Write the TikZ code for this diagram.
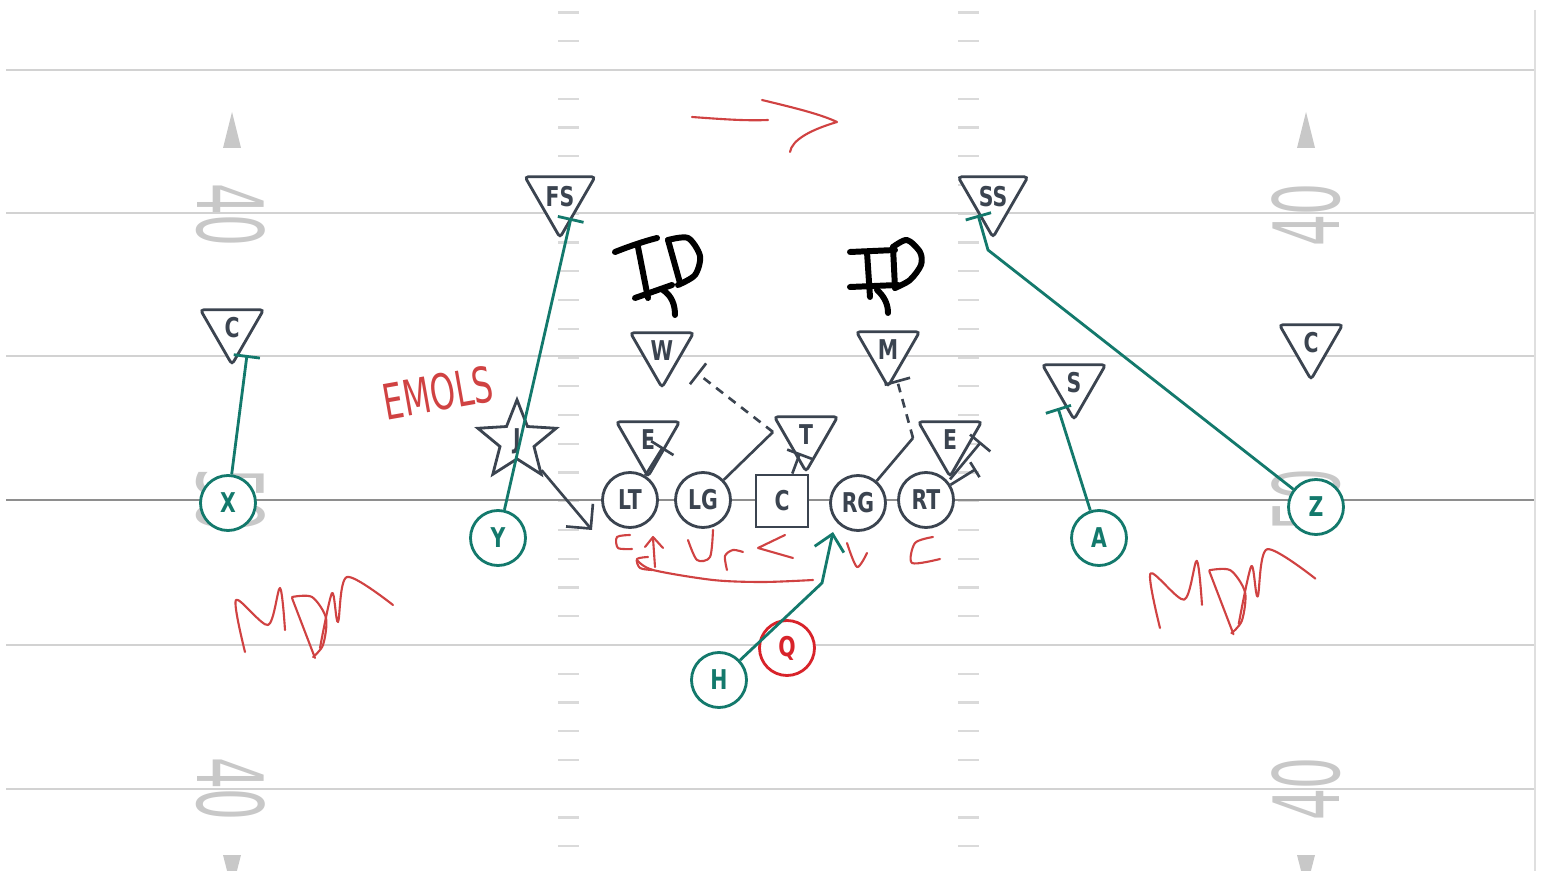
\documentclass[tikz,border=0pt]{standalone}
\usepackage{fontspec}
\usetikzlibrary{shapes.geometric,arrows.meta}

\newfontfamily\playfont[FakeStretch=0.75]{DejaVu Sans}
\newfontfamily\yardfont[FakeStretch=0.55]{DejaVu Sans}
\newfontfamily\handfont[FakeStretch=0.65]{DejaVu Sans}

\definecolor{offteal}{HTML}{13796C}
\definecolor{defslate}{HTML}{3B4450}
\definecolor{qbred}{HTML}{D8232A}
\definecolor{inkred}{HTML}{D04242}
\definecolor{fieldgray}{HTML}{D2D2D2}
\definecolor{losgray}{HTML}{8E8E8E}
\definecolor{yardgray}{HTML}{C8C8C8}
\definecolor{hashgray}{HTML}{DADADA}

\tikzset{
  player/.style={circle, fill=white, line width=1.6pt, minimum size=1.1cm, inner sep=0pt,
    font=\playfont\bfseries\fontsize{15.5}{16}\selectfont},
  off/.style={player, draw=offteal, text=offteal},
  oline/.style={player, draw=defslate, text=defslate},
  snapper/.style={oline, rectangle, minimum size=1.04cm},
  qb/.style={player, draw=qbred, text=qbred},
  defender/.style={regular polygon, regular polygon sides=3, shape border rotate=180,
    draw=defslate, text=defslate, fill=white, line width=1.6pt, minimum size=1.46cm,
    inner sep=0pt, rounded corners=2pt, font=\playfont\bfseries\fontsize{15.5}{16}\selectfont},
  jstar/.style={star, star points=5, star point ratio=2.3, draw=defslate, text=defslate,
    line width=1.6pt, minimum size=1.45cm, inner sep=0pt,
    font=\playfont\bfseries\fontsize{15.5}{16}\selectfont},
  yardnum/.style={text=yardgray, inner sep=0pt, font=\yardfont\fontsize{52}{52}\selectfont},
  route/.style={offteal, line width=1.6pt},
  blk/.style={defslate, line width=1.5pt},
  rush/.style={blk, dash pattern=on 5pt off 4pt},
  tbar/.style={-{Bar[width=15pt]}},
  ink/.style={inkred, line width=1.2pt, line cap=round, line join=round},
  pen/.style={black, line width=3.4pt, line cap=round, line join=round},
  mdm/.pic={
    \draw[ink] plot[smooth] coordinates {(0,0) (-9,-52) (23,-27) (35,-64) (40,-22)};
    \draw[ink] (47,-54) -- (70,6);
    \draw[ink] plot[smooth] coordinates {(47,-55) (67,-55) (81,-34) (78,-7) (68,5)};
    \draw[ink] plot[smooth] coordinates {(75,-4) (87,-59) (93,-30) (102,-75) (148,-47)};
  }
}

\begin{document}
\begin{tikzpicture}[x=0.02cm, y=-0.02cm]
  \fill[white] (0,0) rectangle (1543,871);
  \useasboundingbox (0,0) rectangle (1543,871);

  % field
  \foreach \i in {-2,...,27} {
    \draw[hashgray, line width=1.4pt] (558,{70+\i*28.75}) -- (579,{70+\i*28.75});
    \draw[hashgray, line width=1.4pt] (958,{70+\i*28.75}) -- (979,{70+\i*28.75});
  }
  \foreach \yy/\num in {215/40,500/50,789/40} {
    \node[yardnum, rotate=-90] (ydL\yy) at (231,\yy) {\num};
    \node[yardnum, rotate=90] (ydR\yy) at (1306,\yy) {\num};
  }
  \foreach \xx in {232,1306} {
    \fill[yardgray] (\xx,112) -- (\xx-9,148) -- (\xx+9,148) -- cycle;
    \fill[yardgray] (\xx,890) -- (\xx-9,855) -- (\xx+9,855) -- cycle;
  }
  \foreach \yy in {70,213,356,645,789}
    \draw[fieldgray, line width=1.5pt] (6,\yy) -- (1535,\yy);
  \draw[losgray, line width=1.2pt] (6,500) -- (1535,500);
  \draw[fieldgray!70, line width=1pt] (1535,10) -- (1535,871);

  % defense
  \node[defender] (Cl) at (232,328) {C};
  \node[defender] (FS) at (560,197) {FS};
  \node[defender] (SS) at (993,197) {SS};
  \node[defender] (W) at (662,351) {W};
  \node[defender] (M) at (888,350) {M};
  \node[defender] (S) at (1074,383) {S};
  \node[defender] (Cr) at (1311,343) {C};
  \node[defender] (El) at (648,440) {E};
  \node[defender] (T) at (806,435) {T};
  \node[defender] (Er) at (950,440) {E};
  \node[jstar] (J) at (517,441) {J};

  % offense
  \node[off] (X) at (228,503) {X};
  \node[off] (Y) at (498,538) {Y};
  \node[oline] (LT) at (630,500) {LT};
  \node[oline] (LG) at (703,500) {LG};
  \node[snapper] (C) at (782,501) {C};
  \node[oline] (RG) at (858,503) {RG};
  \node[oline] (RT) at (926,500) {RT};
  \node[off] (A) at (1099,538) {A};
  \node[off] (Z) at (1316,507) {Z};
  \node[off] (H) at (719,680) {H};
  \node[qb] (Q) at (787,648) {Q};

  % route ends
  \coordinate (xblk) at (247,355);
  \coordinate (yblk) at (571,218);
  \coordinate (ablk) at (1058,408);
  \coordinate (zturn) at (988,250);
  \coordinate (zblk) at (978,215);
  \coordinate (hturn) at (822,583);
  \coordinate (hend) at (833,532);
  \coordinate (jend) at (592,530);
  \coordinate (ltblk) at (663,447);
  \coordinate (lgk) at (773,432);
  \coordinate (wblk) at (697,373);
  \coordinate (cblk) at (800,453);
  \coordinate (rgk) at (913,438);
  \coordinate (mblk) at (897,380);
  \coordinate (rtblk) at (976,469);
  \coordinate (erblk) at (981,442);

  % routes
  \draw[route, tbar] (X) -- (xblk);
  \draw[route, tbar] (Y) -- (yblk);
  \draw[route, tbar] (A) -- (ablk);
  \draw[route, tbar] (Z) -- (zturn) -- (zblk);
  \draw[route, -{Straight Barb[length=9pt,width=17pt]}] (H) -- (hturn) -- (hend);
  \draw[blk, -{Straight Barb[length=10pt,width=20pt]}] (J) -- (jend);

  % blocks
  \draw[blk, tbar] (LT) -- (ltblk);
  \draw[blk] (LG) -- (lgk);
  \draw[rush, tbar] (lgk) -- (wblk);
  \draw[blk, tbar] (C) -- (cblk);
  \draw[blk] (RG) -- (rgk);
  \draw[rush, tbar] (rgk) -- (mblk);
  \draw[blk, -{Bar[width=10pt]}] (RT) -- (rtblk);
  \draw[blk, tbar] (Er.corner 1) -- (erblk);

  % pen marks
  \draw[ink] (692,117) .. controls (720,119) and (745,121) .. (768,120);
  \draw[ink] (762,100) .. controls (795,108) and (820,114) .. (837,122)
    .. controls (810,130) and (792,140) .. (790,152);
  \node[text=inkred, inner sep=0pt, rotate=10, font=\handfont\fontsize{28}{28}\selectfont]
    (emols) at (438,393) {EMOLS};
  \pic at (245,652) {mdm};
  \pic[scale=1.05] at (1160,628) {mdm};

  \draw[ink] plot[smooth] coordinates {(630,535) (617,537) (618,548) (632,549)};
  \draw[ink] (645,547) -- (653,537) -- (663,548);
  \draw[ink] (653,538) -- (655,567);
  \draw[ink] plot[smooth] coordinates {(648,557) (637,559) (640,568) (652,570)};
  \draw[ink] plot[smooth] coordinates {(688,540) (697,560) (710,557) (713,530)};
  \draw[ink] plot[smooth] coordinates {(727,570) (725,556) (733,550) (743,552)};
  \draw[ink] (785,535) -- (758,548) -- (793,558);
  \draw[ink] plot[smooth] coordinates {(637,560) (653,570) (713,580) (763,582) (813,580)};
  \draw[ink] plot[smooth] coordinates {(847,543) (857,567) (867,553)};
  \draw[ink] plot[smooth] coordinates {(933,537) (915,543) (912,563) (940,559)};

  \draw[pen] (615,252) .. controls (630,246) and (645,241) .. (657,238);
  \draw[pen] (638,247) -- (648,298);
  \draw[pen] (668,240) -- (680,283);
  \draw[pen] plot[smooth] coordinates {(668,240) (688,238) (700,256) (695,275) (678,285)};
  \draw[pen] (635,298) -- (672,285);
  \draw[pen] (663,290) .. controls (672,296) and (675,305) .. (675,315);

  \draw[pen] (850,252) -- (895,250);
  \draw[pen] (867,252) -- (870,297);
  \draw[pen] (893,247) -- (895,288);
  \draw[pen] plot[smooth] coordinates {(893,247) (907,240) (920,252) (921,265) (910,280) (895,288)};
  \draw[pen] (850,287) -- (898,285);
  \draw[pen] (877,290) .. controls (885,297) and (888,305) .. (888,313);
\end{tikzpicture}
\end{document}
